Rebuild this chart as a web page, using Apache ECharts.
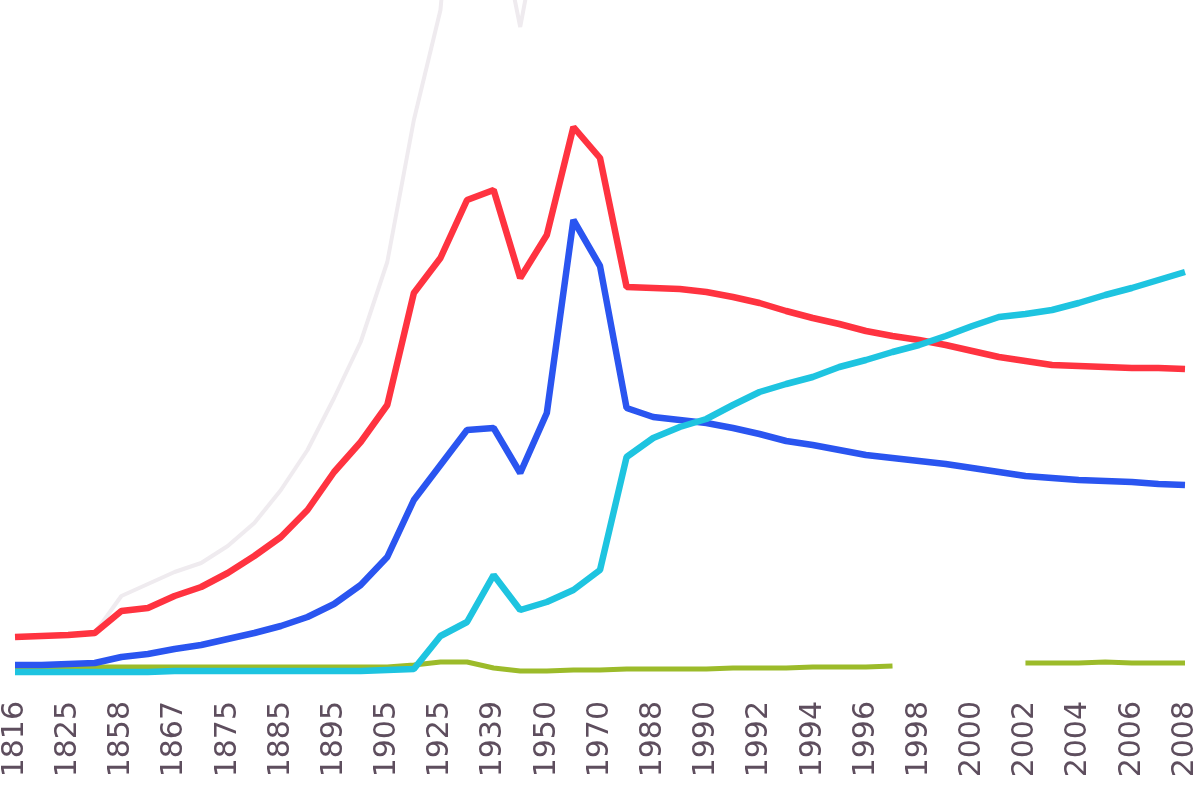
<!DOCTYPE html>
<html>
<head>
<meta charset="utf-8">
<script src="https://cdn.jsdelivr.net/npm/echarts@6/dist/echarts.min.js"></script>
<style>
  html, body { margin: 0; padding: 0; background: #ffffff; }
  #chart { width: 1200px; height: 800px; }
</style>
</head>
<body>
<div id="chart"></div>
<script>
// categories (only every second one is labelled on the axis)
var years = ['1816','1820','1825','1850','1858','1863','1867','1870','1875','1880',
             '1885','1890','1895','1900','1905','1913','1925','1932','1939','1945',
             '1950','1960','1970','1980','1988','1989','1990','1991','1992','1993',
             '1994','1995','1996','1997','1998','1999','2000','2001','2002','2003',
             '2004','2005','2006','2007','2008'];

var redData = [38,39,40,42,64,67,79,88,102,119,138,165,203,233,270,382,417,475,485,397,
               440,548,517,388,387,386,383,378,372,364,357,351,344,339,335,330,324,318,314,310,
               309,308,307,307,306];

var blueData = [10,10,11,12,18,21,26,30,36,42,49,58,71,90,118,175,210,245,247,202,
                262,455,409,267,258,255,252,247,241,234,230,225,220,217,214,211,207,203,199,197,
                195,194,193,191,190];

var cyanData = [3,3,3,3,3,3,4,4,4,4,4,4,4,4,5,6,39,53,100,65,
                73,85,105,218,237,248,256,270,283,291,298,308,315,323,330,339,349,358,361,365,
                372,380,387,395,403];

var greenData = [8,8,8,8,8,8,8,8,8,8,8,8,8,8,8,10,13,13,7,4,
                 4,5,5,6,6,6,6,7,7,7,8,8,8,9,null,null,null,null,12,12,
                 12,13,12,12,12];

var grayData = [38,39,40,42,79,91,103,112,129,152,185,225,277,333,413,555,665,960,780,648,
                790,null,null,null,null,null,null,null,null,null,null,null,null,null,null,null,null,null,null,null,
                null,null,null,null,null];

function lineSeries(name, data, color, width) {
    return {
        name: name,
        type: 'line',
        data: data,
        symbol: 'none',
        connectNulls: false,
        lineStyle: { color: color, width: width },
        itemStyle: { color: color }
    };
}

var option = {
    animation: false,
    backgroundColor: '#ffffff',
    grid: { left: 7, right: 5, top: 0, bottom: 125 },
    xAxis: {
        type: 'category',
        data: years,
        boundaryGap: false,
        axisLine: { show: false },
        axisTick: { show: false },
        splitLine: { show: false },
        axisLabel: {
            interval: 1,
            rotate: 90,
            margin: 26,
            fontSize: 30,
            fontFamily: 'DejaVu Sans',
            color: '#5e4e5e'
        }
    },
    yAxis: {
        type: 'value',
        min: 0,
        max: 675,
        show: false,
        splitLine: { show: false }
    },
    series: [
        lineSeries('gray', grayData, '#efebef', 4),
        lineSeries('green', greenData, '#9cbb2a', 5),
        lineSeries('red', redData, '#ff3340', 6.5),
        lineSeries('blue', blueData, '#2a55f0', 6.5),
        lineSeries('cyan', cyanData, '#1ec4e0', 6.5)
    ]
};

var myChart = echarts.init(document.getElementById('chart'));
myChart.setOption(option);
</script>
</body>
</html>
